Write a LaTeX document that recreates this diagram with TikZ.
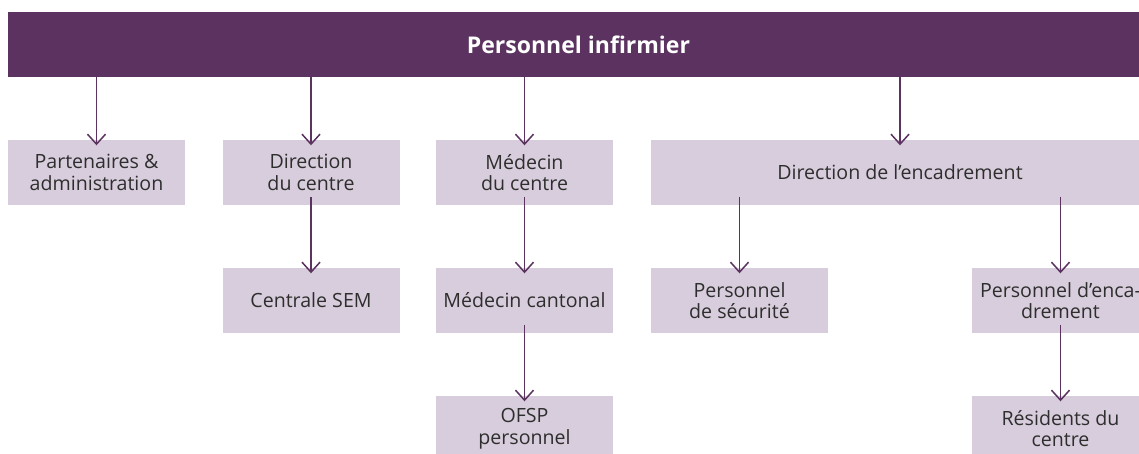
\documentclass[tikz,border=0pt]{standalone}
\usepackage{fontspec}
\setmainfont{Open Sans}
\usetikzlibrary{arrows.meta}
\definecolor{barcol}{HTML}{5B3260}
\definecolor{boxcol}{HTML}{D8CDDC}
\definecolor{txtcol}{HTML}{2E2E2E}
\tikzset{
  orgbox/.style={fill=boxcol, draw=none, minimum width=177pt, minimum height=65pt, inner sep=0pt,
    align=center, text=txtcol, font=\fontsize{19.6}{21.5}\selectfont},
  topbar/.style={fill=barcol, draw=none, minimum width=1141pt, minimum height=65pt, inner sep=0pt,
    text=white, font=\fontsize{23}{26}\selectfont\bfseries},
  link/.style={draw=barcol, line width=1.5pt, -{Straight Barb[length=10pt,width=18pt]}, shorten >=-5.5pt},
  linkin/.style={link, shorten <=-8pt}
}
\begin{document}
\begin{tikzpicture}[x=1pt,y=-1pt]
\useasboundingbox (0,0) rectangle (1139,454);
\clip (0,0) rectangle (1139,454);
\node[topbar] (bar) at (578.5,44.5) {Personnel infirmier};
% row 1
\node[orgbox] (part) at (96.5,172.5) {Partenaires \&\\administration};
\node[orgbox] (dirc) at (311,172.5) {Direction\\du centre};
\node[orgbox] (medc) at (524.5,172.5) {Médecin\\du centre};
\node[orgbox, minimum width=498pt] (dire) at (900,172.5) {Direction de l’encadrement};
% row 2
\node[orgbox] (sem) at (311,300.5) {Centrale SEM};
\node[orgbox] (cant) at (524.5,300.5) {Médecin cantonal};
\node[orgbox] (secu) at (739.5,300.5) {Personnel\\de sécurité};
\node[orgbox] (penc) at (1060.5,300.5) {Personnel d’enca-\\drement};
% row 3
\node[orgbox] (ofsp) at (524.5,428.5) {OFSP\\personnel};
\node[orgbox] (resi) at (1060.5,428.5) {Résidents du\\centre};
% connectors
\draw[link] (bar.south -| part.north) -- (part.north);
\draw[link] (bar.south -| dirc.north) -- (dirc.north);
\draw[link] (bar.south -| medc.north) -- (medc.north);
\draw[link] (bar.south -| dire.north) -- (dire.north);
\draw[linkin] (dirc.south) -- (sem.north);
\draw[linkin] (medc.south) -- (cant.north);
\draw[linkin] (cant.south) -- (ofsp.north);
\draw[linkin] (dire.south -| secu.north) -- (secu.north);
\draw[linkin] (dire.south -| penc.north) -- (penc.north);
\draw[linkin] (penc.south) -- (resi.north);
\end{tikzpicture}
\end{document}
